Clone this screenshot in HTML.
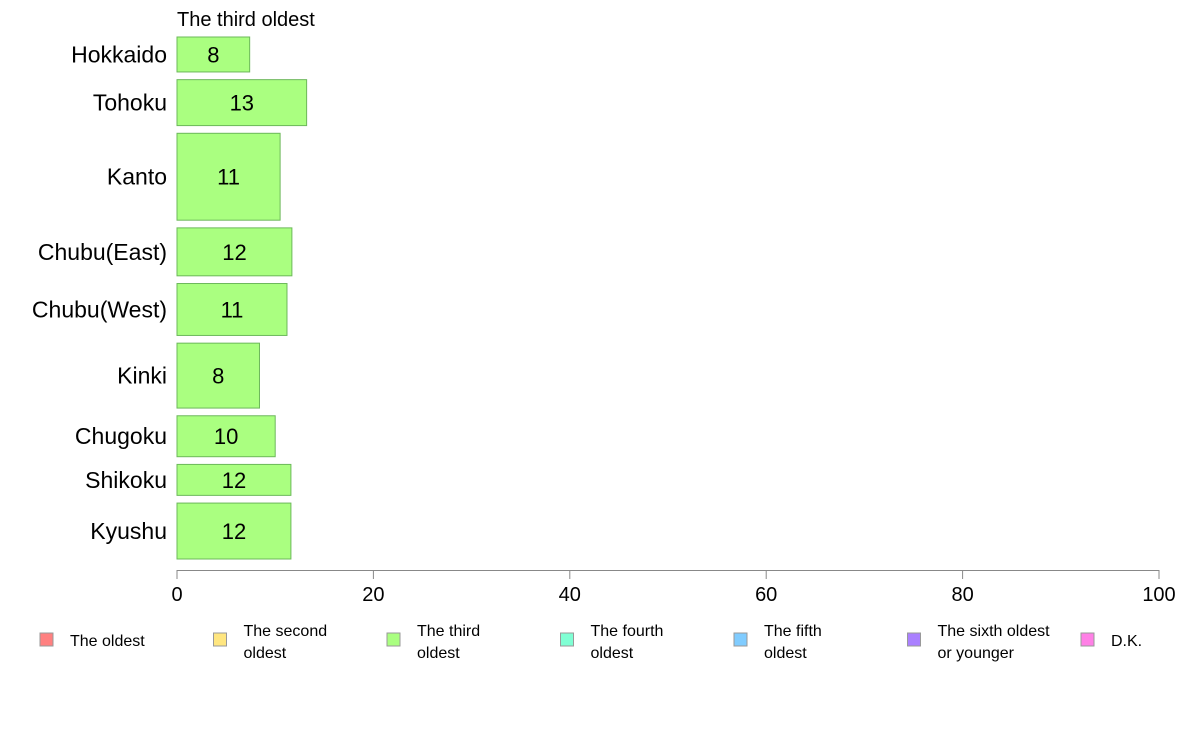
<!DOCTYPE html>
<html><head><meta charset="utf-8"><style>
body{margin:0;background:#fff;}
svg text{font-family:"Liberation Sans",Arial,sans-serif;fill:#000;}
</style></head><body>
<svg id="chart" width="1188" height="736" xmlns="http://www.w3.org/2000/svg">
<text x="177" y="26" font-size="20">The third oldest</text>
<g id="bars"></g>
<g id="axis"></g>
<g id="legend"></g>
</svg>
<script>
const categories=["Hokkaido","Tohoku","Kanto","Chubu(East)","Chubu(West)","Kinki","Chugoku","Shikoku","Kyushu"];
const values=[7.4,13.2,10.5,11.7,11.2,8.4,10.0,11.6,11.6];
const labels=["8","13","11","12","11","8","10","12","12"];
const sampleWeights=[35,46,87,48,52,65,41,31,56];
const ticks=[0,20,40,60,80,100];
const legendNames=[["The oldest"],["The second","oldest"],["The third","oldest"],["The fourth","oldest"],["The fifth","oldest"],["The sixth oldest","or younger"],["D.K."]];
const legendColors=["#ff8080","#ffe680","#aaff80","#80ffd4","#80ccff","#aa80ff","#ff80e6"];

const NS="http://www.w3.org/2000/svg";
const x0=177,x1=1159,yTop=37,yBot=559,gap=7.7;
const xs=v=>x0+(x1-x0)*v/100;
function mk(tag,attrs,parent){const e=document.createElementNS(NS,tag);for(const k in attrs)e.setAttribute(k,attrs[k]);parent.appendChild(e);return e;}
const bars=document.getElementById('bars');
const totalW=sampleWeights.reduce((a,b)=>a+b,0);
const unit=(yBot-yTop-gap*(categories.length-1))/totalW;
let y=yTop;
categories.forEach((c,i)=>{
  const h=sampleWeights[i]*unit;
  const r=mk('rect',{x:x0,y:y,width:xs(values[i])-x0,height:h,fill:'#aaff80',stroke:'#6cb85a','stroke-width':1},bars);
  
  
  const t=mk('text',{x:(x0+xs(values[i]))/2,y:y+h/2+8,'font-size':22,'text-anchor':'middle'},bars);
  t.textContent=labels[i];
  
  
  const l=mk('text',{x:167,y:y+h/2+8,'font-size':23,'text-anchor':'end'},bars);
  l.textContent=c;
  
  
  y+=h+gap;
});
const axis=document.getElementById('axis');
const al=mk('line',{x1:x0,x2:x1,y1:570.5,y2:570.5,stroke:'#888'},axis);


ticks.forEach(v=>{
  const tl=mk('line',{x1:xs(v),x2:xs(v),y1:570,y2:579,stroke:'#888'},axis);
  
  
  const tt=mk('text',{x:xs(v),y:601,'font-size':20,'text-anchor':'middle'},axis);
  tt.textContent=v;
  
  
});
const lg=document.getElementById('legend');
legendNames.forEach((n,i)=>{
  const lx=40+i*173.5;
  const g=mk('g',{},lg);
  
  
  mk('rect',{x:lx,y:633,width:13,height:13,fill:legendColors[i],stroke:'#999'},g);
  n.forEach((line,j)=>{
    const t=mk('text',{x:lx+30,y:(n.length===1?646:636+j*22),'font-size':16},g);
    t.textContent=line;
  });
});
</script>
</body></html>
